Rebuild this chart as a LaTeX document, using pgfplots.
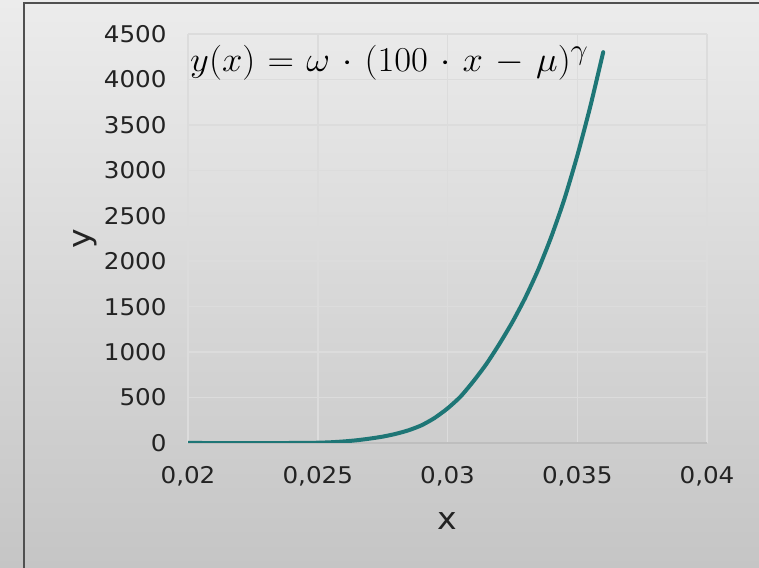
\documentclass[border=0pt]{standalone}
\usepackage{pgfplots}
\pgfplotsset{compat=1.18}
\usepackage{graphicx}
\usepackage{fontspec}
\setmainfont{DejaVu Sans}[FakeStretch=1.07]
\definecolor{curve}{RGB}{30,118,118}
\definecolor{gridc}{RGB}{220,220,220}
\definecolor{basec}{RGB}{190,190,190}
\definecolor{framec}{RGB}{80,80,80}
\definecolor{txt}{RGB}{35,35,35}
\begin{document}
\begin{tikzpicture}[x=1bp,y=1bp]
\useasboundingbox (0,0) rectangle (759,568);
\shade[top color={rgb,255:red,236;green,236;blue,236}, bottom color={rgb,255:red,197;green,197;blue,197}] (0,0) rectangle (759,568);
\draw[line width=2bp, framec] (24,0) -- (24,565) -- (760,565);
\begin{axis}[
  at={(188bp,125bp)}, anchor=south west,
  scale only axis, width=519bp, height=409bp,
  xmin=0.02, xmax=0.04, ymin=0, ymax=4500,
  scaled x ticks=false, scaled y ticks=false,
  axis line style={draw=none},
  tick style={draw=none},
  xtick={0.02,0.025,0.03,0.035,0.04},
  xticklabels={{0,02},{0,025},{0,03},{0,035},{0,04}},
  ytick={0,500,1000,1500,2000,2500,3000,3500,4000,4500},
  yticklabels={0,500,1000,1500,2000,2500,3000,3500,4000,4500},
  extra y ticks={0}, extra y tick labels={},
  extra y tick style={grid style={color=basec, line width=1.8bp}},
  grid=major,
  grid style={color=gridc, line width=1.5bp},
  ticklabel style={font=\fontsize{23bp}{27bp}\selectfont, text=txt},
  xticklabel style={yshift=-20bp},
  yticklabel style={xshift=-18bp},
  xlabel={x}, ylabel={y},
  label style={font=\fontsize{31bp}{35bp}\selectfont, text=txt},
  xlabel style={at={(axis description cs:0.5,-0.19)}, anchor=center},
  ylabel style={at={(axis description cs:-0.198,0.5)}, anchor=center},
]
\addplot[color=curve, line width=4bp, line cap=round, line join=round, smooth, tension=0.4] table {
x y
0.0200 0
0.0240 0
0.0250 3
0.0255 8
0.0260 17
0.0265 30
0.0270 48
0.0275 70
0.0280 100
0.0285 140
0.0290 195
0.0295 275
0.0300 380
0.0305 510
0.0310 680
0.0315 870
0.0320 1090
0.0325 1330
0.0330 1600
0.0335 1910
0.0340 2270
0.0345 2680
0.0350 3160
0.0355 3700
0.0360 4300
};
\end{axis}
\node[anchor=base west, inner sep=0pt, text=black] at (190,496) {\scalebox{1.48}[1.41]{\fontsize{24.88pt}{28pt}\selectfont\medmuskip=6mu\thickmuskip=6mu$y(x)=\omega\cdot(100\cdot x-\mu)^{\gamma}$}};
\end{tikzpicture}
\end{document}
